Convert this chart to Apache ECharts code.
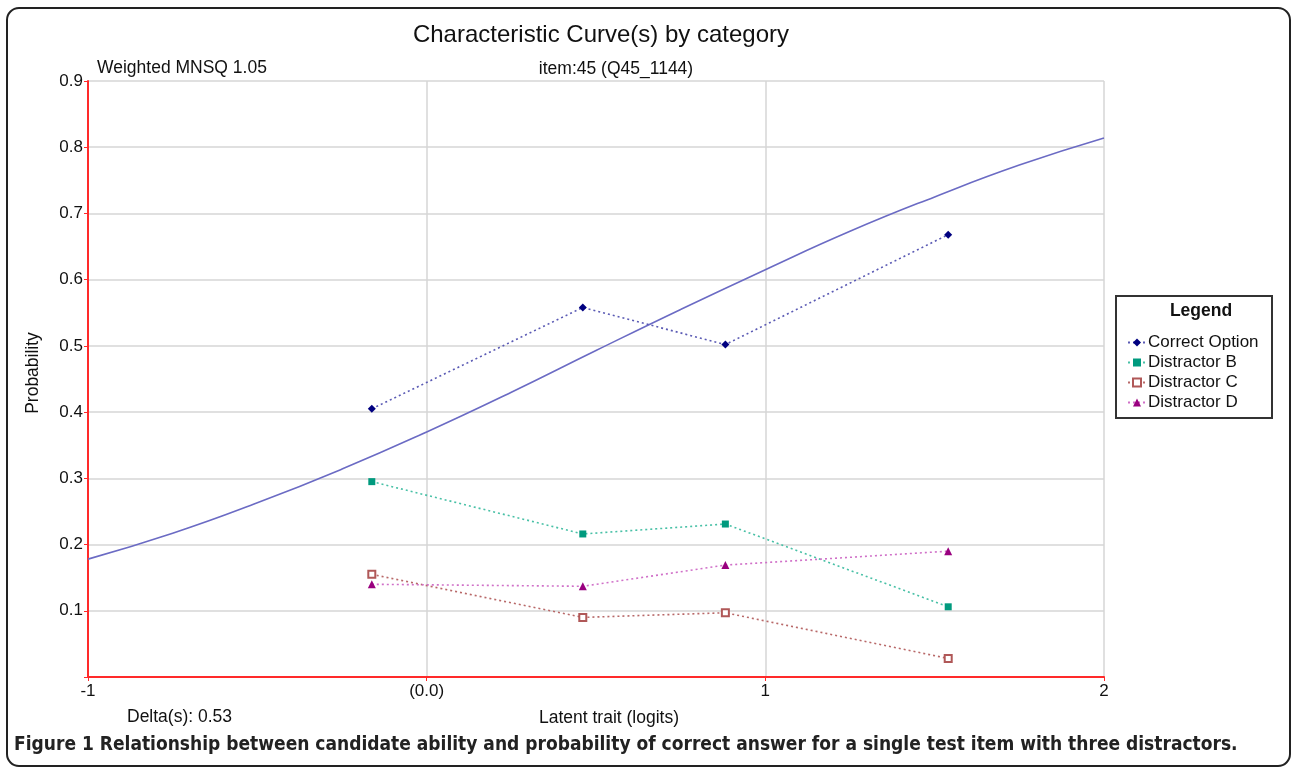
<!DOCTYPE html>
<html>
<head>
<meta charset="utf-8">
<script src="https://cdn.jsdelivr.net/npm/echarts@6/dist/echarts.min.js"></script>
<style>
  html, body { margin: 0; padding: 0; background: #fff; }
  #chartDom { width: 1292px; height: 773px; }
</style>
</head>
<body>
<div id="chartDom"></div>
<script>
// ability points where the observed proportions were plotted
const xTheta = [-0.162, 0.461, 0.882, 1.540];
const correctOption = [0.405, 0.558, 0.502, 0.668];
const distractorB = [0.295, 0.216, 0.231, 0.106];
const distractorC = [0.155, 0.090, 0.097, 0.028];
const distractorD = [0.140, 0.137, 0.169, 0.190];

// model curve
const curveX = [-1, -0.75, -0.5, -0.25, 0, 0.25, 0.5, 0.75, 1, 1.25, 1.5, 1.75, 2];
const curveY = [0.178, 0.217, 0.263, 0.314, 0.370, 0.430, 0.493, 0.555, 0.615, 0.673, 0.725, 0.773, 0.814];

const xTickValues = [-1, 0, 1, 2];
const xTickLabels = ['-1', '(0.0)', '1', '2'];

const pairs = (xs, ys) => xs.map((x, i) => [x, ys[i]]);

const font = 'Liberation Sans, Arial, sans-serif';
const red = '#ff2a2a';

let myChart = echarts.init(document.getElementById('chartDom'));

myChart.setOption({
  animation: false,
  textStyle: { fontFamily: font, color: '#111' },
  grid: { left: 88, top: 81, width: 1016, height: 596 },
  legend: {
    orient: 'vertical',
    left: 1122,
    top: 329,
    itemWidth: 18,
    itemHeight: 10,
    itemGap: 3,
    data: ['Correct Option', 'Distractor B', 'Distractor C', 'Distractor D'],
    textStyle: { fontFamily: font, fontSize: 17, color: '#111', padding: [0, 0, 0, -3] }
  },
  xAxis: {
    type: 'value',
    min: -1,
    max: 2,
    interval: 1,
    axisLine: { onZero: false, lineStyle: { color: red, width: 2 } },
    axisTick: { show: true, length: 4, lineStyle: { color: red } },
    axisLabel: {
      fontSize: 17,
      color: '#111',
      margin: 6,
      formatter: (v) => xTickLabels[xTickValues.indexOf(v)]
    },
    splitLine: { show: true, lineStyle: { color: '#d6d6d6', width: 1.5 } }
  },
  yAxis: {
    type: 'value',
    min: 0,
    max: 0.9,
    interval: 0.1,
    axisLine: { show: true, onZero: false, lineStyle: { color: red, width: 2 } },
    axisTick: { show: true, length: 4, lineStyle: { color: red } },
    axisLabel: {
      fontSize: 17,
      color: '#111',
      margin: 5,
      formatter: (v) => (Math.abs(v) < 1e-9 ? '' : v.toFixed(1))
    },
    splitLine: { show: true, lineStyle: { color: '#d6d6d6', width: 1.5 } }
  },
  series: [
    {
      name: 'Model curve',
      type: 'line',
      data: pairs(curveX, curveY),
      smooth: true,
      showSymbol: false,
      lineStyle: { color: '#6b6bc4', width: 1.6 },
      z: 1
    },
    {
      name: 'Correct Option',
      type: 'line',
      data: pairs(xTheta, correctOption),
      symbol: 'diamond',
      symbolSize: 8,
      itemStyle: { color: '#000080' },
      lineStyle: { color: '#5a5ab4', width: 1.6, type: [2, 3] }
    },
    {
      name: 'Distractor B',
      type: 'line',
      data: pairs(xTheta, distractorB),
      symbol: 'rect',
      symbolSize: 7,
      itemStyle: { color: '#009a7e' },
      lineStyle: { color: '#48c0a6', width: 1.6, type: [2, 3] }
    },
    {
      name: 'Distractor C',
      type: 'line',
      data: pairs(xTheta, distractorC),
      symbol: 'emptyRect',
      symbolSize: 7,
      itemStyle: { color: '#b05858', borderWidth: 1.5 },
      lineStyle: { color: '#b86868', width: 1.6, type: [2, 3] }
    },
    {
      name: 'Distractor D',
      type: 'line',
      data: pairs(xTheta, distractorD),
      symbol: 'triangle',
      symbolSize: 8,
      itemStyle: { color: '#99007f' },
      lineStyle: { color: '#d070c8', width: 1.6, type: [2, 3] }
    }
  ],
  graphic: [
    {
      type: 'rect',
      shape: { x: 7, y: 8, width: 1283, height: 758, r: 12 },
      style: { fill: 'none', stroke: '#222', lineWidth: 2 },
      z: -1
    },
    {
      type: 'text', x: 601, y: 35,
      style: { text: 'Characteristic Curve(s) by category', font: '24px ' + font, fill: '#111', align: 'center', verticalAlign: 'middle' }
    },
    {
      type: 'text', x: 616, y: 69,
      style: { text: 'item:45 (Q45_1144)', font: '17.5px ' + font, fill: '#111', align: 'center', verticalAlign: 'middle' }
    },
    {
      type: 'text', x: 97, y: 68,
      style: { text: 'Weighted MNSQ 1.05', font: '17.5px ' + font, fill: '#111', align: 'left', verticalAlign: 'middle' }
    },
    {
      type: 'text', x: 33, y: 373, rotation: Math.PI / 2,
      style: { text: 'Probability', font: '17.5px ' + font, fill: '#111', align: 'center', verticalAlign: 'middle' }
    },
    {
      type: 'text', x: 127, y: 717,
      style: { text: 'Delta(s): 0.53', font: '17.5px ' + font, fill: '#111', align: 'left', verticalAlign: 'middle' }
    },
    {
      type: 'text', x: 609, y: 718,
      style: { text: 'Latent trait (logits)', font: '17.5px ' + font, fill: '#111', align: 'center', verticalAlign: 'middle' }
    },
    {
      type: 'rect',
      shape: { x: 1116, y: 296, width: 156, height: 122 },
      style: { fill: '#fff', stroke: '#333', lineWidth: 2 },
      z: 0
    },
    {
      type: 'text', x: 1201, y: 311,
      style: { text: 'Legend', font: 'bold 17.5px ' + font, fill: '#111', align: 'center', verticalAlign: 'middle' },
      z: 1
    },
    {
      type: 'text', x: 14, y: 745,
      style: {
        text: 'Figure 1 Relationship between candidate ability and probability of correct answer for a single test item with three distractors.',
        font: 'bold 19px "Liberation Sans Narrow", "DejaVu Sans Condensed", sans-serif',
        fill: '#222', align: 'left', verticalAlign: 'middle'
      }
    }
  ]
});
</script>
</body>
</html>
